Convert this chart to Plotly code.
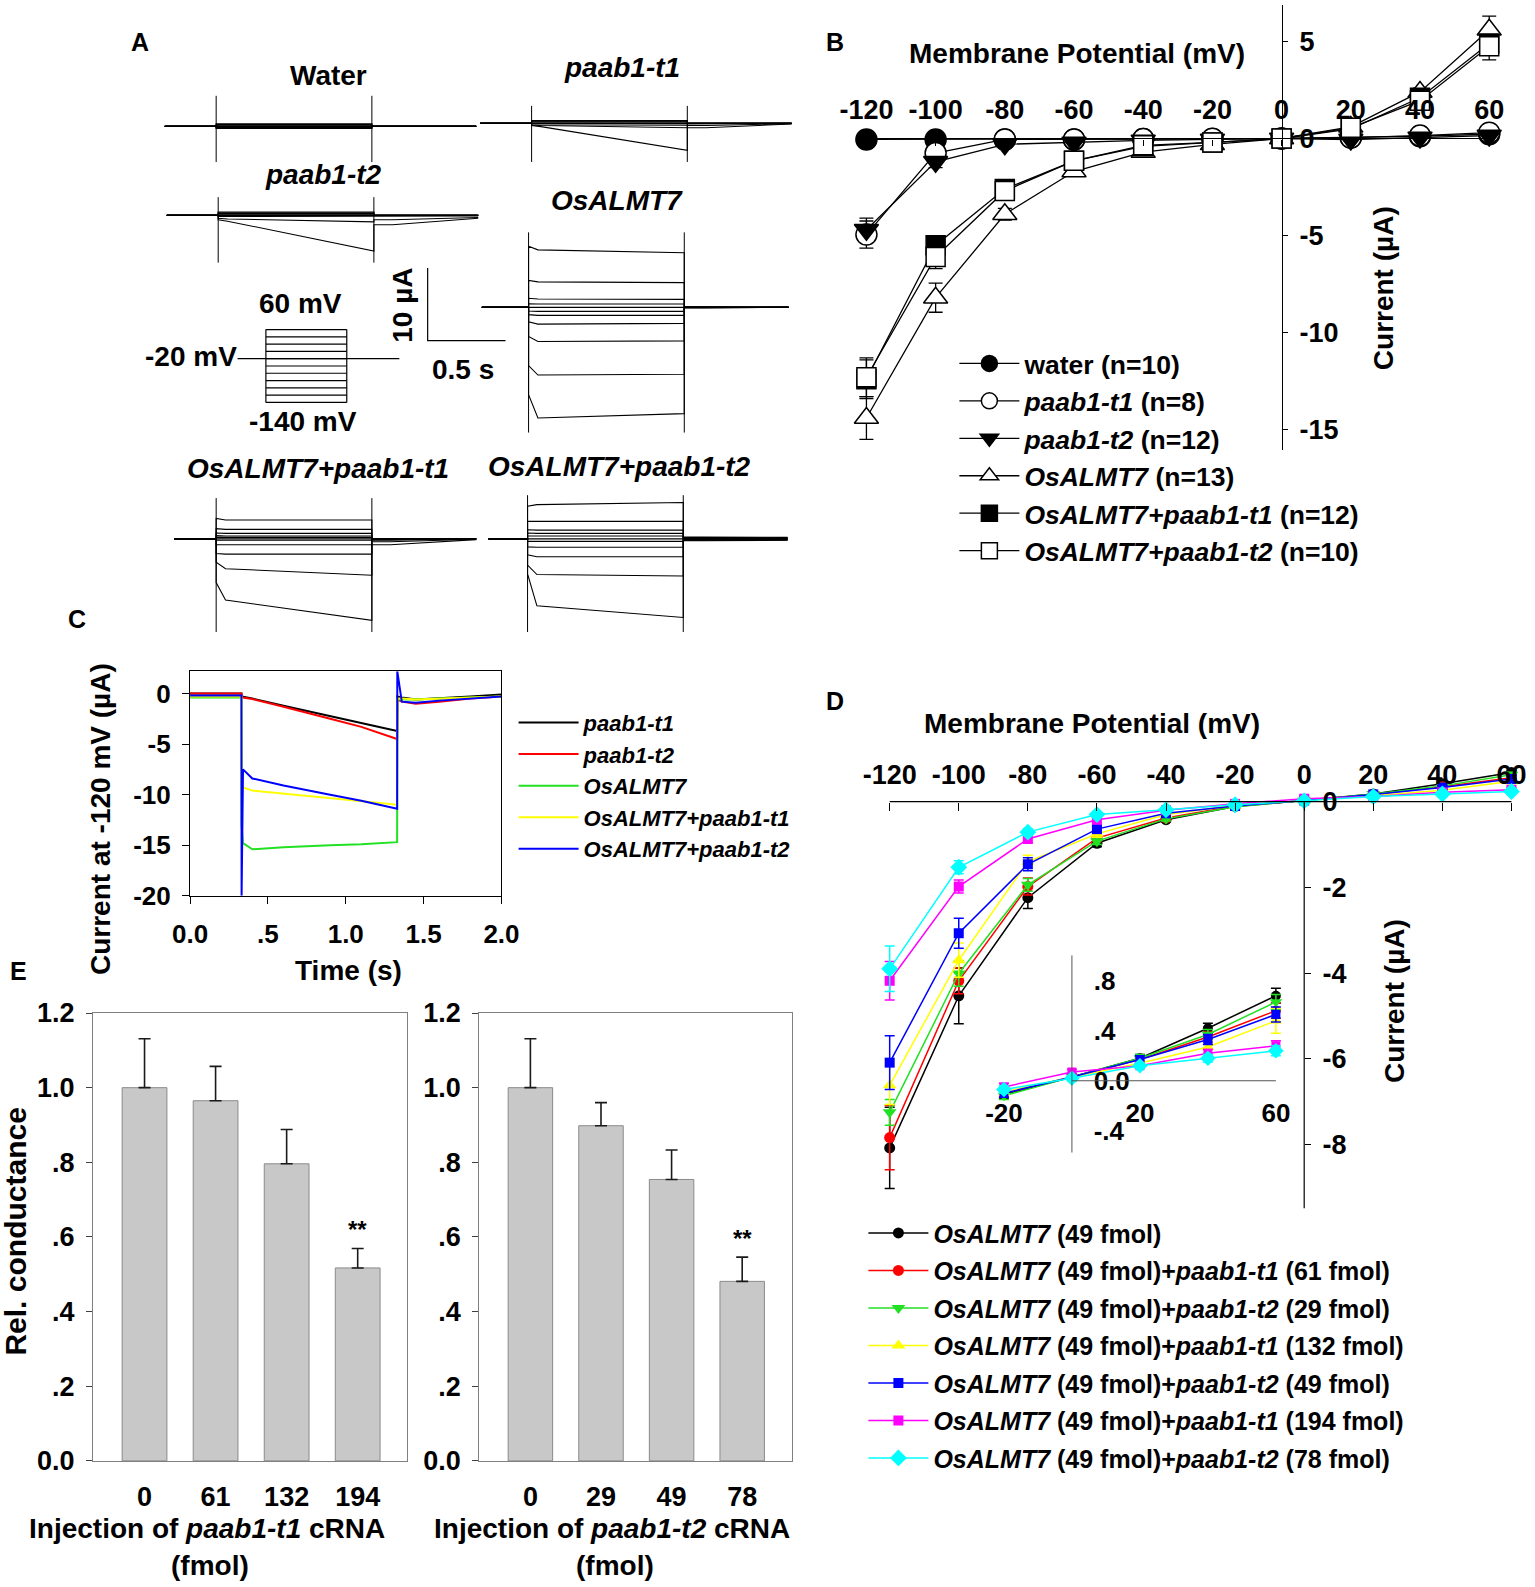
import plotly.graph_objects as go

W, H = 1535, 1587
S = 1.011
FONT = "Liberation Sans, Arial, Helvetica, sans-serif"

# ======================= DATA =======================
# ---- Panel A : voltage-clamp sweeps (current in uA, time in s)
T_ON, T_EARLY, T_OFF, T_TAIL, T_END = 0.33, 0.39, 1.33, 1.45, 2.0
# each sweep: (onset, early, pulse end, tail dip, tail end)
WATER_SWEEPS = [(0.35, 0.35, 0.35, 0, 0), (0.25, 0.25, 0.25, 0, 0), (0.15, 0.15, 0.15, 0, 0),
                (0.08, 0.08, 0.08, 0, 0), (0.0, 0.0, 0.0, 0, 0), (-0.08, -0.08, -0.08, 0, 0),
                (-0.15, -0.15, -0.15, 0, 0), (-0.22, -0.22, -0.22, 0, 0), (-0.3, -0.3, -0.3, 0, 0)]
WATER_SPIKE = (4.2, -4.9)
T1_SWEEPS = [(0.4, 0.4, 0.4, 0, 0), (0.3, 0.3, 0.3, 0, 0), (0.2, 0.2, 0.2, 0, 0),
             (0.1, 0.1, 0.1, 0, 0), (0.0, 0.0, 0.0, 0, 0), (-0.1, -0.1, -0.1, 0, 0),
             (-0.2, -0.2, -0.25, -0.1, 0), (-0.25, -0.3, -0.6, -0.3, -0.05),
             (-0.3, -0.45, -3.7, -0.6, -0.1)]
T1_SPIKE = (2.4, -5.3)
T2_SWEEPS = [(0.45, 0.45, 0.45, 0, 0), (0.35, 0.35, 0.35, 0, 0), (0.25, 0.25, 0.25, 0, 0),
             (0.15, 0.15, 0.15, 0, 0), (0.05, 0.05, 0.05, 0, 0), (-0.05, -0.05, -0.05, 0, 0),
             (-0.15, -0.15, -0.2, -0.2, -0.1), (-0.4, -0.5, -0.9, -0.6, -0.3),
             (-0.6, -0.8, -4.9, -1.3, -0.4)]
T2_SPIKE = (2.5, -6.5)
OS_SWEEPS = [(8.4, 7.9, 7.5, 0.05, 0), (3.7, 3.5, 3.4, 0.03, 0), (1.25, 1.15, 1.1, 0, 0),
             (0.5, 0.45, 0.45, 0, 0), (0.0, 0.0, 0.0, 0, 0), (-0.5, -0.55, -0.55, 0, 0),
             (-1.0, -1.1, -1.1, 0, 0), (-2.0, -2.3, -2.2, 0, 0), (-4.0, -4.7, -4.6, 0, 0),
             (-8.0, -9.3, -9.2, -0.05, 0), (-12.0, -15.2, -14.6, -0.1, 0)]
OS_SPIKE = (10.3, -17.2)
OT1_SWEEPS = [(2.8, 2.6, 2.6, 0, 0), (1.4, 1.3, 1.3, 0, 0), (0.8, 0.75, 0.75, 0, 0),
              (0.45, 0.4, 0.4, 0, 0), (0.2, 0.2, 0.2, 0, 0), (0.0, 0.0, 0.0, 0, 0),
              (-0.2, -0.2, -0.2, 0, 0), (-0.8, -0.8, -0.8, -0.1, 0), (-2.0, -2.1, -2.1, -0.2, 0),
              (-3.2, -4.1, -5.0, -0.4, -0.05), (-6.0, -8.4, -11.2, -0.8, -0.1)]
OT1_SPIKE = (5.6, -12.8)
OT2_SWEEPS = [(4.5, 4.7, 5.0, 0.25, 0.2), (2.4, 2.4, 2.4, 0.2, 0.15), (1.25, 1.2, 1.2, 0.15, 0.1),
              (0.8, 0.75, 0.75, 0.1, 0.08), (0.4, 0.4, 0.4, 0.05, 0.04), (0.0, 0.0, 0.0, 0, 0),
              (-0.35, -0.35, -0.35, -0.05, -0.04), (-1.1, -1.15, -1.15, -0.1, -0.08),
              (-2.2, -2.45, -2.45, -0.15, -0.1), (-3.6, -4.9, -5.1, -0.2, -0.15),
              (-4.8, -9.2, -10.8, -0.25, -0.2)]
OT2_SPIKE = (6.0, -12.8)
# protocol
PROTO_V = [60, 40, 20, 0, -20, -40, -60, -80, -100, -120, -140]
HOLD_V = -20
PROTO_T = (0.0, 0.35, 1.35, 2.0)
SCALE_I, SCALE_T = 10, 0.5

# ---- Panel B : I-V curves
V_B = [-120, -100, -80, -60, -40, -20, 0, 20, 40, 60]
B_WATER = [-0.05, -0.05, -0.05, -0.05, -0.03, -0.02, 0.0, 0.05, 0.12, 0.22]
B_WATER_ERR = [0.15, 0.1, 0.08, 0.05, 0.05, 0.03, 0.02, 0.03, 0.05, 0.08]
B_T1 = [-4.95, -0.75, -0.05, -0.05, -0.03, -0.01, 0.0, 0.05, 0.15, 0.3]
B_T1_ERR = [0.7, 0.25, 0.1, 0.08, 0.05, 0.03, 0.02, 0.03, 0.05, 0.08]
B_T2 = [-4.7, -1.2, -0.3, -0.2, -0.1, -0.05, 0.0, -0.05, 0.05, 0.15]
B_T2_ERR = [0.6, 0.3, 0.15, 0.1, 0.05, 0.03, 0.02, 0.03, 0.05, 0.08]
B_OS = [-14.4, -8.2, -3.9, -1.7, -0.7, -0.3, 0.0, 0.6, 2.4, 5.6]
B_OS_ERR = [1.1, 0.75, 0.3, 0.2, 0.1, 0.05, 0.02, 0.1, 0.2, 0.7]
B_OST1 = [-12.4, -5.5, -2.6, -1.15, -0.4, -0.2, 0.0, 0.5, 2.1, 4.9]
B_OST1_ERR = [1.0, 0.5, 0.25, 0.15, 0.1, 0.05, 0.02, 0.1, 0.3, 0.6]
B_OST2 = [-12.3, -6.1, -2.7, -1.15, -0.35, -0.2, 0.0, 0.55, 1.95, 4.75]
B_OST2_ERR = [1.0, 0.6, 0.25, 0.15, 0.1, 0.05, 0.02, 0.1, 0.3, 0.7]
B_YTICKS = [-15, -10, -5, 0, 5]

# ---- Panel C : current traces at -120 mV
C_T = [0.0, 0.33, 0.331, 0.34, 0.40, 0.6, 0.9, 1.1, 1.33, 1.331, 1.36, 1.45, 1.6, 1.8, 2.0]
C_T1 = [0.0, 0.0, -0.3, -0.32, -0.5, -1.2, -2.2, -2.9, -3.7, -0.3, -0.4, -0.6, -0.5, -0.3, -0.1]
C_T2 = [0.0, 0.0, -0.3, -0.4, -0.55, -1.3, -2.5, -3.3, -4.5, -0.6, -0.8, -1.0, -0.8, -0.5, -0.3]
C_OS = [-0.4, -0.4, -13.0, -14.8, -15.4, -15.2, -15.0, -14.9, -14.7, -0.6, -0.6, -0.6, -0.5, -0.4, -0.3]
C_OST1 = [-0.3, -0.3, -8.8, -9.3, -9.6, -9.9, -10.3, -10.6, -11.0, -0.5, -0.5, -0.6, -0.5, -0.4, -0.3]
C_OST2 = [-0.2, -0.2, -20.0, -7.5, -8.4, -9.1, -10.0, -10.6, -11.4, 2.2, -0.8, -0.9, -0.7, -0.5, -0.3]
C_XTICKS = [0, 0.5, 1, 1.5, 2]
C_XTICKTEXT = ["0.0", ".5", "1.0", "1.5", "2.0"]
C_YTICKS = [0, -5, -10, -15, -20]

# ---- Panel D : I-V curves with dose series
V_D = [-120, -100, -80, -60, -40, -20, 0, 20, 40, 60]
D_OS = [-8.08, -4.53, -2.24, -0.97, -0.42, -0.11, 0.03, 0.18, 0.42, 0.68]
D_OS_ERR = [0.95, 0.65, 0.25, 0.08, 0.05, 0.03, 0.02, 0.03, 0.04, 0.06]
D_T1_61 = [-7.84, -4.18, -1.98, -0.85, -0.38, -0.1, 0.03, 0.17, 0.35, 0.56]
D_T1_61_ERR = [0.75, 0.3, 0.2, 0.08, 0.05, 0.03, 0.02, 0.03, 0.04, 0.06]
D_T2_29 = [-7.25, -4.01, -1.94, -0.92, -0.4, -0.12, 0.03, 0.18, 0.37, 0.63]
D_T2_29_ERR = [0.3, 0.3, 0.15, 0.08, 0.05, 0.03, 0.02, 0.03, 0.04, 0.06]
D_T1_132 = [-6.62, -3.7, -1.4, -0.75, -0.3, -0.09, 0.03, 0.14, 0.27, 0.48]
D_T1_132_ERR = [0.45, 0.4, 0.15, 0.08, 0.05, 0.03, 0.02, 0.03, 0.05, 0.1]
D_T2_49 = [-6.09, -3.07, -1.46, -0.64, -0.27, -0.1, 0.03, 0.17, 0.33, 0.53]
D_T2_49_ERR = [0.63, 0.35, 0.15, 0.07, 0.05, 0.03, 0.02, 0.03, 0.04, 0.06]
D_T1_194 = [-4.18, -1.98, -0.87, -0.42, -0.2, -0.05, 0.07, 0.12, 0.22, 0.28]
D_T1_194_ERR = [0.45, 0.15, 0.08, 0.05, 0.04, 0.03, 0.02, 0.02, 0.03, 0.04]
D_T2_78 = [-3.9, -1.53, -0.71, -0.3, -0.19, -0.07, 0.02, 0.12, 0.18, 0.24]
D_T2_78_ERR = [0.53, 0.15, 0.08, 0.05, 0.04, 0.03, 0.02, 0.02, 0.03, 0.04]
D_YTICKS = [0, -2, -4, -6, -8]
INSET_XTICKS = [-20, 20, 60]
INSET_YTICKS = [-0.4, 0.0, 0.4, 0.8]
INSET_YTICKTEXT = ["-.4", "0.0", ".4", ".8"]

# ---- Panel E : relative conductance
E1_CAT = ["0", "61", "132", "194"]
E1_VAL = [1.0, 0.965, 0.796, 0.517]
E1_ERR = [0.131, 0.092, 0.092, 0.052]
E2_CAT = ["0", "29", "49", "78"]
E2_VAL = [1.0, 0.898, 0.754, 0.481]
E2_ERR = [0.131, 0.062, 0.079, 0.065]
E_YTICKS = [0, 0.2, 0.4, 0.6, 0.8, 1.0, 1.2]
E_YTICKTEXT = ["0.0", ".2", ".4", ".6", ".8", "1.0", "1.2"]

# ======================= HELPERS =======================
def px(x):
    return min(max(x * S / W, 0.0), 1.0)

def py(y):
    return min(max(1 - y * S / H, 0.0), 1.0)

def lin(p, pa, va, pb, vb):
    return va + (p - pa) * (vb - va) / (pb - pa)

def hy(vals):
    # tick labels with a plain hyphen minus, as in the original
    return [("%g" % v).replace("\u2212", "-") for v in vals]

layout = {}
traces = []
annotations = []
shapes = []

def axname(n):
    return "" if n == 1 else str(n)

def add_axes(n, x0, y0, x1, y1, xr, yr, xkw=None, ykw=None):
    a = axname(n)
    xa = dict(domain=[px(x0), px(x1)], range=xr, anchor="y" + a, visible=False,
              showgrid=False, zeroline=False, automargin=False)
    ya = dict(domain=[py(y1), py(y0)], range=yr, anchor="x" + a, visible=False,
              showgrid=False, zeroline=False, automargin=False)
    if xkw:
        xa.update(xkw)
    if ykw:
        ya.update(ykw)
    layout["xaxis" + a] = xa
    layout["yaxis" + a] = ya
    return "x" + a, "y" + a

def text(x, y, s, size=26, angle=0, xanchor="center"):
    annotations.append(dict(x=px(x), y=py(y), xref="paper", yref="paper", text=s,
                            showarrow=False, xanchor=xanchor, yanchor="middle",
                            textangle=angle, font=dict(size=size, family=FONT, color="black")))

def tfont(size):
    return dict(size=size, family=FONT, color="black", weight="bold")

# ======================= PANEL A =======================
PXS, PXA = 154.0, 7.2  # px per s, px per uA
A_PANELS = [
    ("<b>Water</b>", 325, 75, WATER_SWEEPS, WATER_SPIKE, 163, 125, 88, 168, 0.0),
    ("<b><i>paab1-t1</i></b>", 615, 67, T1_SWEEPS, T1_SPIKE, 475, 122, 95, 168, 0.0),
    ("<b><i>paab1-t2</i></b>", 320, 173, T2_SWEEPS, T2_SPIKE, 165, 213, 188, 268, 0.0),
    ("<b><i>OsALMT7</i></b>", 610, 198, OS_SWEEPS, OS_SPIKE, 472, 304, 222, 436, 0.03),
    ("<b><i>OsALMT7+paab1-t1</i></b>", 315, 463, OT1_SWEEPS, OT1_SPIKE, 163, 533, 485, 632, 0.06),
    ("<b><i>OsALMT7+paab1-t2</i></b>", 613, 461, OT2_SWEEPS, OT2_SPIKE, 471, 533, 485, 632, 0.08),
]
n = 1
for title, tx, ty, sweeps, spike, x0, base, ytop, ybot, tstart in A_PANELS:
    xr = [-5 / PXS, 313 / PXS]
    yr = [-(ybot - base) / PXA, (base - ytop) / PXA]
    xa, ya = add_axes(n, x0 - 5, ytop, x0 + 313, ybot, xr, yr)
    xs, ys = [], []
    for on, early, end, tail, tail_end in sweeps:
        xs += [tstart, T_ON, T_ON, T_EARLY, T_OFF, T_OFF, T_TAIL, T_END, None]
        ys += [0, 0, on, early, end, tail, tail, tail_end, None]
    traces.append(go.Scatter(x=xs, y=ys, xaxis=xa, yaxis=ya, mode="lines",
                             line=dict(color="black", width=1.1), showlegend=False, hoverinfo="skip"))
    hi, lo = spike
    traces.append(go.Scatter(x=[T_ON, T_ON, None, T_OFF, T_OFF], y=[hi, lo, None, hi, lo],
                             xaxis=xa, yaxis=ya, mode="lines", line=dict(color="black", width=1),
                             showlegend=False, hoverinfo="skip"))
    text(tx, ty, title, 28)
    n += 1

# protocol
xa, ya = add_axes(n, 230, 310, 400, 415,
                  [lin(230, 235, 0, 395, 2), lin(400, 235, 0, 395, 2)],
                  [lin(415, 326, 60, 398, -140), lin(310, 326, 60, 398, -140)])
xs, ys = [PROTO_T[0], PROTO_T[3], None], [HOLD_V, HOLD_V, None]
for v in PROTO_V:
    xs += [PROTO_T[1], PROTO_T[2], None]
    ys += [v, v, None]
xs += [PROTO_T[1], PROTO_T[1], None, PROTO_T[2], PROTO_T[2]]
ys += [max(PROTO_V), min(PROTO_V), None, max(PROTO_V), min(PROTO_V)]
traces.append(go.Scatter(x=xs, y=ys, xaxis=xa, yaxis=ya, mode="lines",
                         line=dict(color="black", width=1.2), showlegend=False, hoverinfo="skip"))
n += 1
# scale bar
xa, ya = add_axes(n, 415, 258, 510, 345,
                  [(415 - 423) / PXS, (510 - 423) / PXS], [-(345 - 337) / PXA, (337 - 258) / PXA])
traces.append(go.Scatter(x=[0, 0, SCALE_T], y=[SCALE_I, 0, 0], xaxis=xa, yaxis=ya, mode="lines",
                         line=dict(color="black", width=1.2), showlegend=False, hoverinfo="skip"))
n += 1
text(297, 300, "<b>60 mV</b>", 28)
text(189, 353, "<b>-20 mV</b>", 28)
text(300, 417, "<b>-140 mV</b>", 28)
text(398, 302, "<b>10 µA</b>", 28, angle=-90)
text(458, 365, "<b>0.5 s</b>", 28)

# ======================= PANEL B =======================
bx = lambda p: lin(p, 857, -120, 1473, 60)
by = lambda p: lin(p, 137, 0, 425, -15)
xa, ya = add_axes(n, 835, 5, 1495, 445, [bx(835), bx(1495)], [by(445), by(5)],
                  xkw=dict(visible=True, anchor="free", position=py(137), side="top", showline=False,
                           ticks="inside", ticklen=6, tickcolor="black", tickvals=V_B, ticktext=hy(V_B),
                           tickfont=tfont(27), ticklabelstandoff=14),
                  ykw=dict(visible=True, anchor="free", position=px(1268), side="right", showline=True,
                           linecolor="black", linewidth=1.2, ticks="outside", ticklen=5,
                           tickcolor="black", tickvals=B_YTICKS, ticktext=hy(B_YTICKS),
                           tickfont=tfont(27), ticklabelstandoff=6))
shapes.append(dict(type="line", xref=xa, yref=ya, x0=-120, x1=60, y0=0, y1=0,
                   line=dict(color="black", width=1.2)))
B_SERIES = [
    ("water (n=10)", B_WATER, B_WATER_ERR, "circle", "black", 21),
    ("<i>paab1-t1</i> (n=8)", B_T1, B_T1_ERR, "circle", "white", 21),
    ("<i>paab1-t2</i> (n=12)", B_T2, B_T2_ERR, "triangle-down", "black", 21),
    ("<i>OsALMT7</i> (n=13)", B_OS, B_OS_ERR, "triangle-up", "white", 21),
    ("<i>OsALMT7+paab1-t1</i> (n=12)", B_OST1, B_OST1_ERR, "square", "black", 19),
    ("<i>OsALMT7+paab1-t2</i> (n=10)", B_OST2, B_OST2_ERR, "square", "white", 19),
]
for name, vals, errs, sym, fill, size in B_SERIES:
    traces.append(go.Scatter(x=V_B, y=vals, xaxis=xa, yaxis=ya, mode="markers",
                             marker=dict(size=1, color="rgba(0,0,0,0)"),
                             error_y=dict(type="data", array=errs, color="black", thickness=1.3, width=7),
                             showlegend=False, hoverinfo="skip"))
for i, (name, vals, errs, sym, fill, size) in enumerate(B_SERIES):
    traces.append(go.Scatter(x=V_B, y=vals, xaxis=xa, yaxis=ya, mode="lines+markers", name=name,
                             line=dict(color="black", width=1.3),
                             marker=dict(symbol=sym, size=size, color=fill, line=dict(color="black", width=1.5)),
                             legend="legend", legendgroup="b%d" % i, cliponaxis=False))
n += 1
text(1065, 53, "<b>Membrane Potential (mV)</b>", 28)
text(1368, 285, "<b>Current (µA)</b>", 28, angle=-90)

# ======================= PANEL C =======================
cax = dict(visible=True, showline=True, mirror=True, linecolor="black", linewidth=1.3,
           ticks="outside", ticklen=7, tickcolor="black", tickfont=tfont(26))
xa, ya = add_axes(n, 188, 664, 496, 886, [0, 2], [-20, 2.2],
                  xkw=dict(cax, tickvals=C_XTICKS, ticktext=C_XTICKTEXT, ticklabelstandoff=8),
                  ykw=dict(cax, tickvals=C_YTICKS, ticktext=hy(C_YTICKS), ticklabelstandoff=6))
C_SERIES = [
    ("<i>paab1-t1</i>", C_T1, "black"),
    ("<i>paab1-t2</i>", C_T2, "#ff0000"),
    ("<i>OsALMT7</i>", C_OS, "#22e022"),
    ("<i>OsALMT7+paab1-t1</i>", C_OST1, "#ffff00"),
    ("<i>OsALMT7+paab1-t2</i>", C_OST2, "#0000ff"),
]
for name, vals, col in C_SERIES:
    traces.append(go.Scatter(x=C_T, y=vals, xaxis=xa, yaxis=ya, mode="lines", name=name,
                             line=dict(color=col, width=2), legend="legend2"))
n += 1
text(100, 810, "<b>Current at -120 mV (µA)</b>", 28, angle=-90)
text(345, 960, "<b>Time (s)</b>", 28)

# ======================= PANEL D =======================
dxm = lambda p: lin(p, 880, -120, 1495, 60)
dym = lambda p: lin(p, 793, 0, 1132, -8)
xa, ya = add_axes(n, 860, 740, 1515, 1200, [dxm(860), dxm(1515)], [dym(1200), dym(740)],
                  xkw=dict(visible=True, anchor="free", position=py(793), side="top", showline=False,
                           ticks="inside", ticklen=8, tickcolor="black", tickvals=V_D, ticktext=hy(V_D),
                           tickfont=tfont(27), ticklabelstandoff=12),
                  ykw=dict(visible=True, anchor="free", position=px(1290), side="right", showline=False,
                           ticks="outside", ticklen=6, tickcolor="black", tickvals=D_YTICKS,
                           ticktext=hy(D_YTICKS), tickfont=tfont(27), ticklabelstandoff=6))
shapes.append(dict(type="line", xref=xa, yref=ya, x0=-120, x1=60, y0=0, y1=0,
                   line=dict(color="black", width=1.2)))
shapes.append(dict(type="line", xref=xa, yref=ya, x0=0, x1=0, y0=0, y1=dym(1195),
                   line=dict(color="black", width=1.2)))
D_SERIES = [
    ("<i>OsALMT7</i> (49 fmol)", D_OS, D_OS_ERR, "circle", "black", 11),
    ("<i>OsALMT7</i> (49 fmol)+<i>paab1-t1</i> (61 fmol)", D_T1_61, D_T1_61_ERR, "circle", "#ff0000", 11),
    ("<i>OsALMT7</i> (49 fmol)+<i>paab1-t2</i> (29 fmol)", D_T2_29, D_T2_29_ERR, "triangle-down", "#22e022", 12),
    ("<i>OsALMT7</i> (49 fmol)+<i>paab1-t1</i> (132 fmol)", D_T1_132, D_T1_132_ERR, "triangle-up", "#ffff00", 12),
    ("<i>OsALMT7</i> (49 fmol)+<i>paab1-t2</i> (49 fmol)", D_T2_49, D_T2_49_ERR, "square", "#0000ff", 10),
    ("<i>OsALMT7</i> (49 fmol)+<i>paab1-t1</i> (194 fmol)", D_T1_194, D_T1_194_ERR, "square", "#ff00ff", 10),
    ("<i>OsALMT7</i> (49 fmol)+<i>paab1-t2</i> (78 fmol)", D_T2_78, D_T2_78_ERR, "diamond", "#00ffff", 13),
]
for i, (name, vals, errs, sym, col, size) in enumerate(D_SERIES):
    traces.append(go.Scatter(x=V_D, y=vals, xaxis=xa, yaxis=ya, mode="lines+markers", name=name,
                             line=dict(color=col, width=1.5),
                             marker=dict(symbol=sym, size=size, color=col),
                             error_y=dict(type="data", array=errs, color=col, thickness=1.5, width=5),
                             legend="legend3", legendgroup="d%d" % i, cliponaxis=False))
n += 1
text(1080, 716, "<b>Membrane Potential (mV)</b>", 28)
text(1380, 990, "<b>Current (µA)</b>", 28, angle=-90)

# inset
ixm = lambda p: lin(p, 993, -20, 1262, 60)
iym = lambda p: lin(p, 1069, 0, 970, 0.8)
xa, ya = add_axes(n, 975, 935, 1285, 1150, [ixm(975), ixm(1285)], [iym(1150), iym(935)],
                  xkw=dict(visible=True, anchor="free", position=py(1069), side="bottom", showline=False,
                           ticks="", tickvals=INSET_XTICKS, ticktext=hy(INSET_XTICKS),
                           tickfont=tfont(26), ticklabelstandoff=14),
                  ykw=dict(visible=True, anchor="free", position=px(1061), side="right", showline=False,
                           ticks="", tickvals=INSET_YTICKS, ticktext=INSET_YTICKTEXT,
                           tickfont=tfont(26), ticklabelstandoff=20))
shapes.append(dict(type="line", xref=xa, yref=ya, x0=0, x1=60, y0=0, y1=0,
                   line=dict(color="#555555", width=1)))
shapes.append(dict(type="line", xref=xa, yref=ya, x0=0, x1=0, y0=iym(1140), y1=iym(945),
                   line=dict(color="#555555", width=1)))
for name, vals, errs, sym, col, size in D_SERIES:
    traces.append(go.Scatter(x=V_D[5:], y=vals[5:], xaxis=xa, yaxis=ya, mode="lines+markers",
                             line=dict(color=col, width=1.5),
                             marker=dict(symbol=sym, size=size - 1, color=col),
                             error_y=dict(type="data", array=errs[5:], color=col, thickness=1.5, width=5),
                             showlegend=False, cliponaxis=False, hoverinfo="skip"))
n += 1

# ======================= PANEL E =======================
eax = dict(visible=True, showline=True, mirror=True, linecolor="#808080", linewidth=1)
for cats, vals, errs, x0, x1, t1, tx in [
        (E1_CAT, E1_VAL, E1_ERR, 92, 403, "t1", 205),
        (E2_CAT, E2_VAL, E2_ERR, 474, 783, "t2", 605)]:
    xa, ya = add_axes(n, x0, 1002, x1, 1445, [-0.725, 3.70], [0, 1.2],
                      xkw=dict(eax, type="category", ticks="", tickfont=tfont(27), ticklabelstandoff=12),
                      ykw=dict(eax, ticks="outside", ticklen=6, tickcolor="#404040",
                               tickvals=E_YTICKS, ticktext=E_YTICKTEXT,
                               tickfont=tfont(27), ticklabelstandoff=6))
    traces.append(go.Bar(x=cats, y=vals, xaxis=xa, yaxis=ya, width=0.63,
                         marker=dict(color="#c8c8c8", line=dict(color="#8a8a8a", width=1)),
                         error_y=dict(type="data", array=errs, arrayminus=[0] * len(errs), symmetric=False,
                                      color="#1a1a1a", thickness=1.6, width=6),
                         showlegend=False, hoverinfo="skip"))
    annotations.append(dict(x=len(cats) - 1, y=vals[-1] + errs[-1] + 0.05, xref=xa, yref=ya,
                            text="<b>**</b>", showarrow=False,
                            font=dict(size=24, family=FONT, color="black")))
    text(tx, 1512, "<b>Injection of <i>paab1-%s</i> cRNA</b>" % t1, 28)
    text(tx + 3, 1548, "<b>(fmol)</b>", 28)
    n += 1
text(15, 1218, "<b>Rel. conductance</b>", 30, angle=-90)

# panel letters
for lab, x, y in [("A", 138, 42), ("B", 826, 42), ("C", 76, 612), ("D", 826, 693), ("E", 18, 960)]:
    text(x, y, "<b>%s</b>" % lab, 25)

# ======================= LAYOUT =======================
layout.update(dict(
    width=W, height=H, margin=dict(l=0, r=0, t=0, b=0),
    paper_bgcolor="white", plot_bgcolor="rgba(0,0,0,0)",
    font=dict(family=FONT, size=24, color="black", weight="bold"),
    annotations=annotations, shapes=shapes,
    legend=dict(x=px(944), y=py(336), xanchor="left", yanchor="top", bgcolor="rgba(0,0,0,0)",
                font=tfont(26.5), itemwidth=60, tracegroupgap=0),
    legend2=dict(x=px(508), y=py(694), xanchor="left", yanchor="top", bgcolor="rgba(0,0,0,0)",
                 font=tfont(22), itemwidth=60, tracegroupgap=0),
    legend3=dict(x=px(854), y=py(1197), xanchor="left", yanchor="top", bgcolor="rgba(0,0,0,0)",
                 font=tfont(25), itemwidth=60, tracegroupgap=2),
    showlegend=True,
))

fig = go.Figure(data=traces, layout=layout)
fig.write_html("out.html", config={"displayModeBar": False},
               post_script="document.body.style.margin='0';")
